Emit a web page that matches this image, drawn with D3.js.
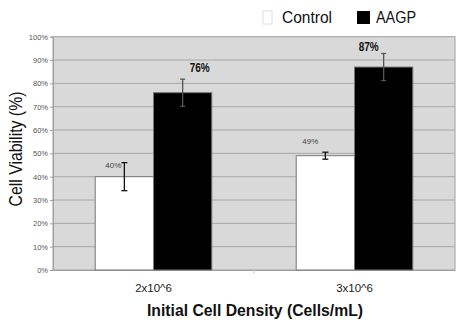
<!DOCTYPE html>
<html><head><meta charset="utf-8">
<script src="https://cdn.jsdelivr.net/npm/d3@7"></script>
<style>body{margin:0;background:#fff;}svg{display:block;font-family:Arial,"Liberation Sans",sans-serif;}</style>
</head><body><svg id="c" width="460" height="328"></svg>
<script>
const categories = ["2x10^6", "3x10^6"];
const seriesNames = ["Control", "AAGP"];
const controlValues = [40, 49];
const aagpValues = [76, 87];
const controlErrors = [6, 1.5];
const aagpErrors = [5.8, 5.8];
const yTicks = [0,10,20,30,40,50,60,70,80,90,100];

const svg = d3.select("#c");
const m = {l:53, r:455, t:36.7, b:270};
const x0 = d3.scaleBand().domain(categories).range([m.l, m.r]).paddingInner(0.42).paddingOuter(0.21);
const x1 = d3.scaleBand().domain(seriesNames).range([0, x0.bandwidth()]);
const y = d3.scaleLinear().domain([0,100]).range([m.b, m.t]);

// plot background
svg.append("rect").attr("x", m.l).attr("y", m.t).attr("width", m.r-m.l).attr("height", m.b-m.t)
  .attr("fill", "#d9d9d9").attr("stroke", "#a0a0a0").attr("stroke-width", 1);

// gridlines
svg.append("g").selectAll("line").data(yTicks.filter(d=>d>0 && d<100)).join("line")
  .attr("x1", m.l).attr("x2", m.r).attr("y1", d=>y(d)).attr("y2", d=>y(d))
  .attr("stroke", "#a8a8a8").attr("stroke-width", 1);

// y axis
const yAxis = d3.axisLeft(y).tickValues(yTicks).tickFormat(d=>d+"%").tickSize(3).tickPadding(2);
const gy = svg.append("g").attr("transform", `translate(${m.l},0)`).call(yAxis);
gy.select(".domain").attr("stroke", "#a0a0a0");
gy.selectAll(".tick line").attr("stroke", "#a0a0a0");
gy.selectAll("text").attr("font-size", 7.5).attr("fill", "#555").attr("font-family", "Arial, sans-serif");

// x axis
const xAxis = d3.axisBottom(x0).tickSize(0).tickPadding(14);
const gx = svg.append("g").attr("transform", `translate(0,${m.b})`).call(xAxis);
gx.select(".domain").attr("stroke", "#a0a0a0");
gx.selectAll("text").attr("font-size", 11.5).attr("fill", "#222").attr("font-family", "Arial, sans-serif");
// category boundary tick
svg.append("line").attr("x1", (m.l+m.r)/2).attr("x2", (m.l+m.r)/2).attr("y1", m.b).attr("y2", m.b+4).attr("stroke", "#ccc");

const rows = categories.map((c,i)=>({cat:c, items:[
  {s:"Control", v:controlValues[i], e:controlErrors[i]},
  {s:"AAGP", v:aagpValues[i], e:aagpErrors[i]}]}));

const fills = {Control:"#ffffff", AAGP:"#000000"};
const g = svg.append("g");
rows.forEach((r,i)=>{
  r.items.forEach(it=>{
    const bx = x0(r.cat) + x1(it.s);
    g.append("rect").attr("x", bx).attr("y", y(it.v)).attr("width", x1.bandwidth()).attr("height", y(0)-y(it.v))
      .attr("fill", fills[it.s]).attr("stroke", "#777").attr("stroke-width", 1);
    const cx = bx + x1.bandwidth()/2;
    const col = it.s==="Control" ? "#111" : "#555";
    const cw = it.s==="Control" ? 3 : 2.5;
    g.append("line").attr("x1", cx).attr("x2", cx).attr("y1", y(it.v+it.e)).attr("y2", y(it.v-it.e)).attr("stroke", col).attr("stroke-width", 1.3);
    [it.v+it.e, it.v-it.e].forEach(v=>g.append("line").attr("x1", cx-cw).attr("x2", cx+cw).attr("y1", y(v)).attr("y2", y(v)).attr("stroke", col).attr("stroke-width", 1.3));
    // labels
    if (it.s==="Control") {
      g.append("text").attr("x", cx-3).attr("y", y(it.v+it.e)+ (i===0?5:-8)).attr("text-anchor","end")
        .attr("font-size", 8).attr("fill", "#444").text(it.v+"%")
        .attr("dx", i===0?0:-4);
    } else {
      g.append("text").attr("x", i===0 ? cx+7 : cx-25).attr("y", i===0 ? y(it.v+it.e)-7 : y(it.v+it.e)-2)
        .attr("font-size", 12).attr("font-weight", "bold").attr("fill", "#111")
        .attr("textLength", 20).attr("lengthAdjust","spacingAndGlyphs").text(it.v+"%");
    }
  });
});

// legend
const leg = svg.append("g");
leg.append("rect").attr("x", 263).attr("y", 11).attr("width", 9).attr("height", 13).attr("fill", "#fff").attr("stroke", "#ddd");
leg.append("text").attr("x", 282).attr("y", 23).attr("font-size", 16).attr("fill", "#111").attr("textLength", 50).attr("lengthAdjust","spacingAndGlyphs").text(seriesNames[0]);
leg.append("rect").attr("x", 357).attr("y", 11).attr("width", 13).attr("height", 13).attr("fill", "#000");
leg.append("text").attr("x", 376).attr("y", 23).attr("font-size", 16).attr("fill", "#111").attr("textLength", 40).attr("lengthAdjust","spacingAndGlyphs").text(seriesNames[1]);

// axis titles
svg.append("text").attr("x", 255).attr("y", 316).attr("text-anchor", "middle").attr("font-size", 17)
  .attr("font-weight", "bold").attr("fill", "#111").attr("textLength", 216).attr("lengthAdjust","spacingAndGlyphs")
  .text("Initial Cell Density (Cells/mL)");
svg.append("text").attr("transform", "translate(22,149) rotate(-90)").attr("text-anchor", "middle").attr("font-size", 18)
  .attr("fill", "#111").attr("textLength", 115).attr("lengthAdjust","spacingAndGlyphs")
  .text("Cell Viability (%)");
</script></body></html>
